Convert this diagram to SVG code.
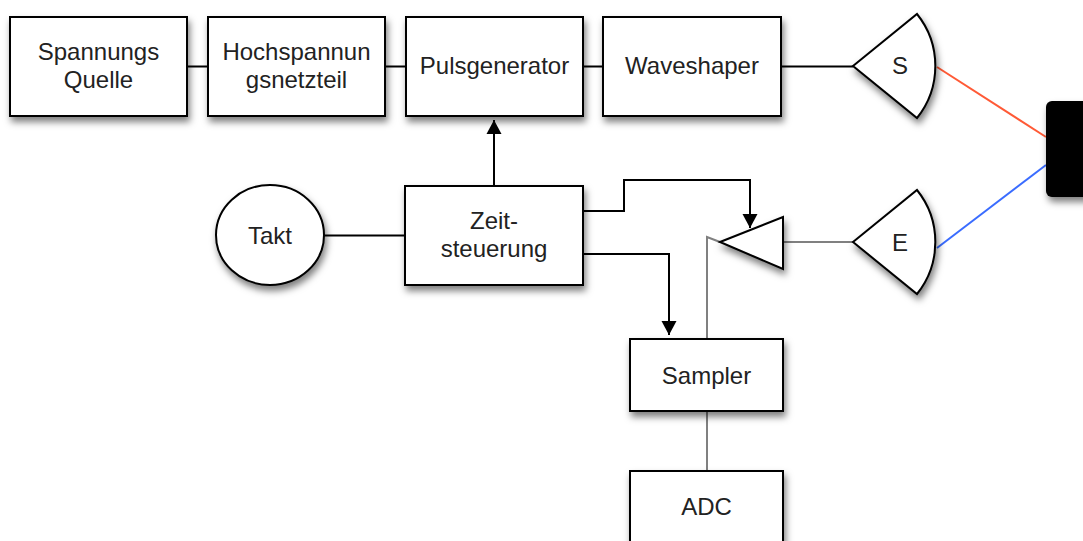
<svg xmlns="http://www.w3.org/2000/svg" width="1083" height="541" viewBox="0 0 1083 541">
<defs>
<filter id="sh" x="-20%" y="-20%" width="150%" height="160%">
<feDropShadow dx="2" dy="5" stdDeviation="3.5" flood-color="#000" flood-opacity="0.5"/>
</filter>
<marker id="ah" viewBox="0 0 14 17" refX="14" refY="8.5" markerWidth="14" markerHeight="17" markerUnits="userSpaceOnUse" orient="auto">
<path d="M0,1 L14,8.5 L0,16 Z" fill="#000"/>
</marker>
<style>
.box{fill:#fff;stroke:#000;stroke-width:2;filter:url(#sh)}
.t{font-family:"Liberation Sans",Arial,sans-serif;font-size:24px;fill:#222;text-anchor:middle}
.ln{fill:none;stroke:#000;stroke-width:2}
.gl{fill:none;stroke:#808080;stroke-width:2}
</style>
</defs>
<g id="connectors">
<path class="ln" d="M187,66.5 H208"/>
<path class="ln" d="M385,66.5 H406"/>
<path class="ln" d="M583,66.5 H603"/>
<path class="ln" d="M781,66.5 H853"/>
<path class="ln" d="M324,235.5 H405"/>
<path class="ln" d="M494,186 V120" marker-end="url(#ah)"/>
<path class="ln" d="M583,211 H624 V180 H750 V228" marker-end="url(#ah)"/>
<path class="ln" d="M583,254 H669 V335" marker-end="url(#ah)"/>
<path class="gl" d="M707,339 V237 L720,242"/>
<path class="gl" d="M783,242 H853"/>
<path class="gl" d="M707,411 V471"/>
<path fill="none" stroke="#ff5a36" stroke-width="2" d="M937,67 L1046,137"/>
<path fill="none" stroke="#3a6cff" stroke-width="2" d="M937,248 L1046,165"/>
</g>
<g id="spannungsquelle">
<rect class="box" x="10" y="17" width="177" height="99"/>
<text class="t" x="98.5" y="59.5">Spannungs</text>
<text class="t" x="98.5" y="87.5">Quelle</text>
</g>
<g id="hochspannungsnetzteil">
<rect class="box" x="208" y="17" width="177" height="99"/>
<text class="t" x="296.5" y="59.5">Hochspannun</text>
<text class="t" x="296.5" y="87.5">gsnetzteil</text>
</g>
<g id="pulsgenerator">
<rect class="box" x="406" y="17" width="177" height="99"/>
<text class="t" x="494.5" y="74">Pulsgenerator</text>
</g>
<g id="waveshaper">
<rect class="box" x="603" y="17" width="178" height="99"/>
<text class="t" x="692" y="74">Waveshaper</text>
</g>
<g id="antenne-s">
<path class="box" d="M853,66 L917,14 A83,83 0 0 1 917,118 Z"/>
<text class="t" x="900" y="74">S</text>
</g>
<g id="antenne-e">
<path class="box" d="M853,242 L917,190 A83,83 0 0 1 917,294 Z"/>
<text class="t" x="900" y="251">E</text>
</g>
<g id="objekt">
<rect x="1046" y="101" width="50" height="96" rx="6" fill="#000" filter="url(#sh)"/>
</g>
<g id="takt">
<ellipse class="box" cx="270" cy="235" rx="54" ry="50"/>
<text class="t" x="270" y="243.5">Takt</text>
</g>
<g id="zeitsteuerung">
<rect class="box" x="405" y="186" width="178" height="99"/>
<text class="t" x="494" y="229">Zeit-</text>
<text class="t" x="494" y="257">steuerung</text>
</g>
<g id="verstaerker">
<path class="box" d="M720,242 L783,217 L783,269 Z"/>
</g>
<g id="sampler">
<rect class="box" x="630" y="339" width="153" height="72"/>
<text class="t" x="706.5" y="383.5">Sampler</text>
</g>
<g id="adc">
<rect class="box" x="630" y="471" width="153" height="80"/>
<text class="t" x="706.5" y="514.5">ADC</text>
</g>
</svg>
